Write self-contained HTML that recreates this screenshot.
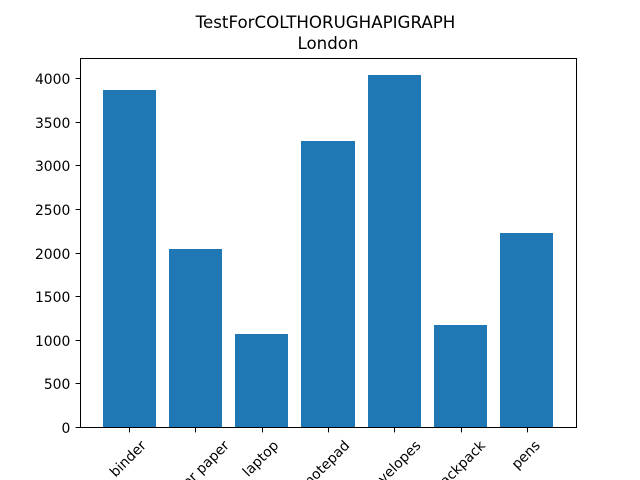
<!DOCTYPE html>
<html>
<head>
<meta charset="utf-8">
<title>TestForCOLTHORUGHAPIGRAPH London</title>
<style>
html,body{margin:0;padding:0;background:#fff;width:640px;height:480px;overflow:hidden}
svg{display:block;overflow:hidden}
text{font-family:"DejaVu Sans",sans-serif;fill:#000}
</style>
</head>
<body>
<svg id="chart" xmlns="http://www.w3.org/2000/svg" width="640" height="480" viewBox="0 0 640 480">
<rect x="0" y="0" width="640" height="480" fill="#fff"/>
<text x="325.5" y="28" font-size="16.67" text-anchor="middle">TestForCOLTHORUGHAPIGRAPH</text>
<text x="328" y="49" font-size="16.67" text-anchor="middle">London</text>
<g id="bars" shape-rendering="crispEdges"></g>
<g id="yaxis"></g>
<g id="xaxis"></g>
<rect x="80.5" y="58.5" width="496" height="369" fill="none" stroke="#000" stroke-width="1" shape-rendering="crispEdges"/>
</svg>
<script>
const categories = ["binder", "printer paper", "laptop", "notepad", "envelopes", "backpack", "pens"];
const salesValues = [3870, 2048, 1070, 3280, 4040, 1170, 2225];
const yTickValues = [0, 500, 1000, 1500, 2000, 2500, 3000, 3500, 4000];

const NS = "http://www.w3.org/2000/svg";
const plot = {left: 80, right: 576, top: 57.5, bottom: 427.5};
const barWidth = 0.8;
const maxValue = Math.max(...salesValues);
const yMax = maxValue * 1.05;
const xMin = -barWidth / 2 - 0.05 * (categories.length - 1 + barWidth);
const xMax = categories.length - 1 + barWidth / 2 + 0.05 * (categories.length - 1 + barWidth);

function xScale(v) {
  return plot.left + (v - xMin) / (xMax - xMin) * (plot.right - plot.left);
}
function yScale(v) {
  return plot.bottom - v / yMax * (plot.bottom - plot.top);
}
function make(tag, attrs) {
  const el = document.createElementNS(NS, tag);
  for (const k in attrs) el.setAttribute(k, attrs[k]);
  return el;
}

const barsGroup = document.getElementById("bars");
const yGroup = document.getElementById("yaxis");
const xGroup = document.getElementById("xaxis");

salesValues.forEach(function (value, i) {
  const x0 = Math.round(xScale(i - barWidth / 2));
  const x1 = Math.round(xScale(i + barWidth / 2));
  const y = Math.round(yScale(value));
  const bar = make("rect", {x: x0, y: y, width: x1 - x0, height: 427 - y, fill: "#1f77b4"});
  
  
  barsGroup.appendChild(bar);
});

yTickValues.forEach(function (value) {
  const y = Math.min(Math.floor(yScale(value)), 427) + 0.5;
  const tick = make("line", {x1: plot.left - 4.4, x2: plot.left, y1: y, y2: y, stroke: "#000", "stroke-width": 1});
  
  
  yGroup.appendChild(tick);
  const label = make("text", {x: plot.left - 9.7, y: y + 5.5, "font-size": 13.89, "text-anchor": "end"});
  label.textContent = String(value);
  
  
  yGroup.appendChild(label);
});

categories.forEach(function (name, i) {
  const x = xScale(i);
  const tickX = Math.round(x) + 0.5;
  const tick = make("line", {x1: tickX, x2: tickX, y1: 427.5, y2: 432.4, stroke: "#000", "stroke-width": 1});
  
  
  xGroup.appendChild(tick);
  const label = make("text", {x: 0, y: 0, "font-size": 13.89, "text-anchor": "middle", "dominant-baseline": "central"});
  label.textContent = name;
  
  
  xGroup.appendChild(label);
  const len = label.getComputedTextLength();
  const halfExtent = (len + 16) * Math.SQRT1_2 / 2;
  const cy = plot.bottom + 10.3 + halfExtent;
  label.setAttribute("transform", "translate(" + (x - 0.7) + "," + cy + ") rotate(-45)");
});
</script>
</body>
</html>
